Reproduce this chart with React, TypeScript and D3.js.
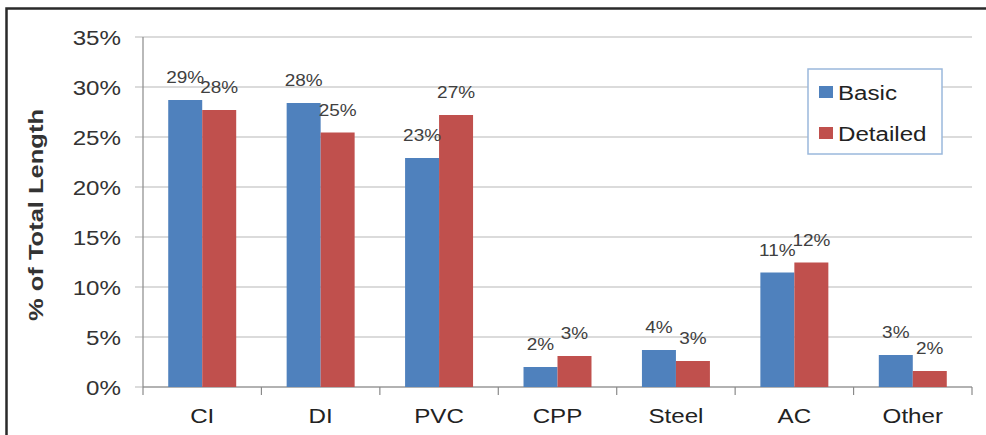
import React from "react";
import * as d3 from "d3";

const categories = ["CI", "DI", "PVC", "CPP", "Steel", "AC", "Other"];
const seriesNames = ["Basic", "Detailed"];
const basicValues = [28.7, 28.4, 22.9, 2.0, 3.7, 11.45, 3.2];
const detailedValues = [27.7, 25.45, 27.2, 3.1, 2.6, 12.45, 1.6];
const yTicks = [0, 5, 10, 15, 20, 25, 30, 35];
const seriesColors = ["#4F81BD", "#C0504D"];

const W = 986;
const H = 435;
const SX = 1.15;

export default function App() {
  const x = d3
    .scaleBand<string>()
    .domain(categories)
    .range([143, 972])
    .paddingInner(0.426)
    .paddingOuter(0.213);
  const xi = d3.scaleBand<string>().domain(seriesNames).range([0, x.bandwidth()]);
  const y = d3.scaleLinear().domain([0, 35]).range([387, 37]);
  const step = x.step();
  const x0 = 143;
  const series = [basicValues, detailedValues];
  const fmt = (v: number) => `${Math.round(v)}%`;

  return (
    <svg
      width={W}
      height={H}
      style={{ position: "absolute", left: 0, top: 0, background: "#fff" }}
      fontFamily="'Liberation Sans', Arial, sans-serif"
    >
      {/* frame */}
      <rect x={6.5} y={8.5} width={1200} height={1000} fill="none" stroke="#2a2a2a" strokeWidth={2.5} />

      {/* gridlines */}
      {yTicks.map((t) => (
        <line key={"g" + t} x1={135} x2={972} y1={y(t)} y2={y(t)} stroke="#b8b8b8" strokeWidth={1.2} />
      ))}
      {/* y axis */}
      <line x1={143} x2={143} y1={y(35)} y2={y(0)} stroke="#8a8a8a" strokeWidth={1.2} />
      {/* x axis */}
      <line x1={143} x2={972} y1={y(0)} y2={y(0)} stroke="#8a8a8a" strokeWidth={1.2} />
      {d3.range(categories.length + 1).map((i) => (
        <line
          key={"xt" + i}
          x1={x0 + i * step}
          x2={x0 + i * step}
          y1={y(0)}
          y2={y(0) + 8}
          stroke="#8a8a8a"
          strokeWidth={1.2}
        />
      ))}

      {/* y tick labels */}
      {yTicks.map((t) => (
        <text
          key={"yl" + t}
          transform={`translate(121,${y(t) + 7.5}) scale(${SX},1)`}
          textAnchor="end"
          fontSize={21}
          fill="#333"
        >
          {t}%
        </text>
      ))}

      {/* y title */}
      <text
        transform={`translate(43,215) rotate(-90)`}
        textAnchor="middle"
        fontSize={20}
        fontWeight="bold"
        fill="#333"
        textLength={212}
        lengthAdjust="spacingAndGlyphs"
      >
        % of Total Length
      </text>

      {/* bars */}
      {series.map((vals, si) =>
        vals.map((v, ci) => {
          const bx = (x(categories[ci]) as number) + (xi(seriesNames[si]) as number);
          return (
            <rect
              key={`b${si}-${ci}`}
              x={bx}
              y={y(v)}
              width={xi.bandwidth()}
              height={y(0) - y(v)}
              fill={seriesColors[si]}
            />
          );
        })
      )}

      {/* data labels */}
      {series.map((vals, si) =>
        vals.map((v, ci) => {
          const cx = (x(categories[ci]) as number) + (xi(seriesNames[si]) as number) + xi.bandwidth() / 2;
          return (
            <text
              key={`l${si}-${ci}`}
              transform={`translate(${cx},${y(v) - 17}) scale(${SX},1)`}
              textAnchor="middle"
              fontSize={16.5}
              fill="#404040"
            >
              {fmt(v)}
            </text>
          );
        })
      )}

      {/* category labels */}
      {categories.map((c) => (
        <text
          key={"c" + c}
          transform={`translate(${(x(c) as number) + x.bandwidth() / 2},423) scale(${SX},1)`}
          textAnchor="middle"
          fontSize={21}
          fill="#222"
        >
          {c}
        </text>
      ))}

      {/* legend */}
      <rect x={808} y={69} width={134} height={85} fill="#fff" stroke="#9ab8dc" strokeWidth={1.5} />
      {seriesNames.map((s, i) => {
        const cy = 92 + i * 41;
        return (
          <g key={"lg" + s}>
            <rect x={819} y={cy - 6} width={14} height={12} fill={seriesColors[i]} />
            <text transform={`translate(838,${cy + 7.5}) scale(${SX},1)`} fontSize={21} fill="#222">
              {s}
            </text>
          </g>
        );
      })}
    </svg>
  );
}
